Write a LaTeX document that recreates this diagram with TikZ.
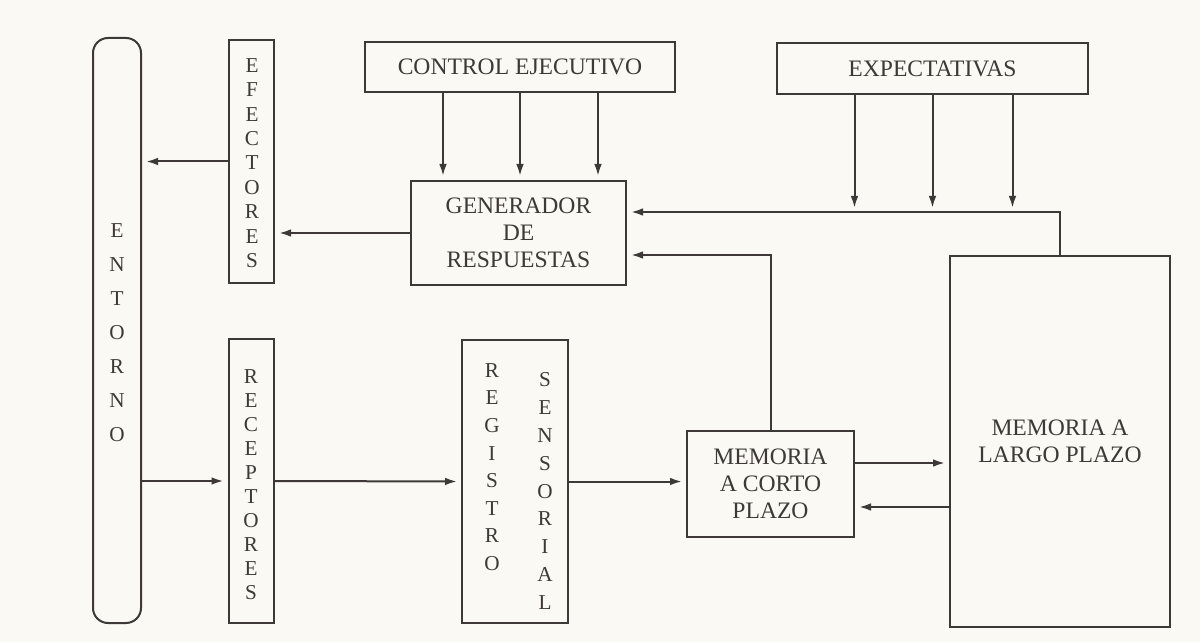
\documentclass[tikz,border=0pt]{standalone}
\usepackage{fontspec}
\setmainfont{Liberation Serif}
\usetikzlibrary{arrows.meta}
\definecolor{paper}{RGB}{251,249,243}
\definecolor{ink}{RGB}{60,57,54}
\tikzset{
	box/.style={draw=ink, line width=1pt, inner sep=0pt, align=center, text=ink,
		font=\fontsize{11.8}{13.5}\selectfont},
	letters/.style={align=center, inner sep=0pt, text=ink, font=\fontsize{10.6}{#1}\selectfont},
	arr/.style={draw=ink, line width=1pt, -{Latex[length=6pt,width=3.8pt]}, shorten >=2pt},
	wire/.style={draw=ink, line width=1pt}
}
\begin{document}
\begin{tikzpicture}[x=0.5pt, y=-0.5pt]
		%%%%% START %%%%%
		
		\fill[paper] (0, 0) rectangle (1200, 642);
		
		% entorno, efectores, receptores
		\node[box, rounded corners=7.5pt, minimum width=24pt, minimum height=292.5pt] (ent) at (117, 330.5) {};
		\node[letters=17pt] at (117, 333) {E\\N\\T\\O\\R\\N\\O};
		
		\node[box, minimum width=22.5pt, minimum height=121.5pt] (efe) at (251.5, 161.5) {};
		\node[letters=12.2pt] at (252, 163) {E\\F\\E\\C\\T\\O\\R\\E\\S};
		
		\node[box, minimum width=22.5pt, minimum height=142pt] (rec) at (251, 481) {};
		\node[letters=12pt] at (251, 485) {R\\E\\C\\E\\P\\T\\O\\R\\E\\S};
		
		% registro sensorial
		\node[box, minimum width=53pt, minimum height=141.5pt] (reg) at (515, 481.5) {};
		\node[letters=13.8pt] at (492, 467) {R\\E\\G\\I\\S\\T\\R\\O};
		\node[letters=13.9pt] at (545, 491) {S\\E\\N\\S\\O\\R\\I\\A\\L};
		
		% memorias
		\node[box, minimum width=83.5pt, minimum height=53pt] (mcp) at (770.5, 484) {MEMORIA\\A CORTO\\PLAZO};
		\node[box, minimum width=110pt, minimum height=185.5pt] (mlp) at (1060, 441.5) {MEMORIA A\\LARGO PLAZO};
		
		% arriba
		\node[box, minimum width=155pt, minimum height=25pt] (ctl) at (520, 67) {CONTROL EJECUTIVO};
		\node[box, minimum width=155.5pt, minimum height=25.5pt] (exp) at (932.5, 68.5) {EXPECTATIVAS};
		\node[box, minimum width=107.5pt, minimum height=52pt] (gen) at (518.5, 233) {GENERADOR\\DE\\RESPUESTAS};
		
		\coordinate (fb) at ([yshift=10.5pt]gen.east);
		\coordinate (fc) at ([yshift=-11pt]gen.east);
		
		% flechas
		\draw[arr] (efe.west) -- (efe.west -| ent.east);
		\draw[arr] (gen.west) -- (gen.west -| efe.east);
		\draw[arr] (rec.west -| ent.east) -- (rec.west);
		\draw[arr] (rec.east) -- (reg.west);
		\draw[arr] (reg.east) -- (reg.east -| mcp.west);
		\draw[arr] ([yshift=10.5pt]mcp.east) -- ([yshift=10.5pt]mcp.east -| mlp.west);
		\draw[arr] ([yshift=-11.5pt]mcp.east -| mlp.west) -- ([yshift=-11.5pt]mcp.east);
		
		\foreach \dx in {-38.5, 0, 39}
			\draw[arr] ([xshift=\dx pt]ctl.south) -- ([xshift=\dx pt]ctl.south |- gen.north);
		\foreach \dx in {-39, 0, 40}
			\draw[arr] ([xshift=\dx pt]exp.south) -- ([xshift=\dx pt]exp.south |- fb);
		
		\draw[arr] (mlp.north) |- (fb);
		\draw[arr] (mcp.north) |- (fc);
		
		%%%%% END %%%%%
	\end{tikzpicture}
\end{document}
